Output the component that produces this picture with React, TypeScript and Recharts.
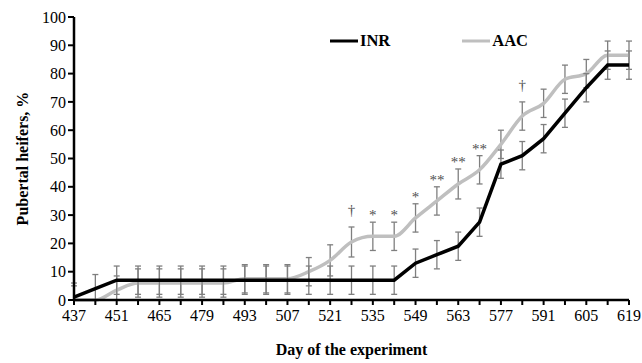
import { LineChart, Line, XAxis, YAxis, ErrorBar, LabelList, Legend } from "recharts";

const days = [
  437, 444, 451, 458, 465, 472, 479, 486, 493, 500, 507, 514, 521, 528,
  535, 542, 549, 556, 563, 570, 577, 584, 591, 598, 605, 612, 619,
];
const labeledDays = [437, 451, 465, 479, 493, 507, 521, 535, 549, 563, 577, 591, 605, 619];
const yTicks = [0, 10, 20, 30, 40, 50, 60, 70, 80, 90, 100];

const inr = [1, 4, 7, 7, 7, 7, 7, 7, 7, 7, 7, 7, 7, 7, 7, 7, 13, 16, 19, 27.5, 48, 51, 57, 66, 75, 83, 83];
const aac = [0, 0, 3.5, 6, 6, 6, 6, 6, 7.5, 7.5, 7.5, 10, 14, 20.5, 22.5, 22.5, 29, 35, 41, 46, 55, 65, 69.5, 78, 80, 86.5, 86.5];
const inrErr = [5, 5, 5, 5, 5, 5, 5, 5, 5, 5, 5, 5, 5, 5, 5, 5, 5, 5, 5, 5, 5, 5, 5, 5, 5, 5, 5];
const aacErr = [5, 0, 5, 5, 5, 5, 5, 5, 5, 5, 5, 5, 5.5, 5.3, 5, 5, 5, 5, 5.3, 5, 5, 5, 5, 5, 5, 5, 5];
const signif = ["", "", "", "", "", "", "", "", "", "", "", "", "", "†", "*", "*", "*", "**", "**", "**", "", "†", "", "", "", "", ""];

const data = days.map((day, i) => ({
  day,
  inr: inr[i],
  aac: aac[i],
  inrErr: [Math.min(inrErr[i], inr[i]), inrErr[i]],
  aacErr: [Math.min(aacErr[i], aac[i]), aacErr[i]],
  sigY: signif[i] ? aac[i] + aacErr[i] : null,
  sig: signif[i],
}));

const FONT = "'Liberation Serif', 'Times New Roman', serif";
const GRAY = "#bfbfbf";

function LegendBox() {
  const item = (color: string, name: string, gap: number) => (
    <div style={{ display: "flex", alignItems: "center", marginRight: gap }}>
      <svg width={30} height={6}>
        <line x1={0} y1={3} x2={28} y2={3} stroke={color} strokeWidth={3} />
      </svg>
      <span style={{ fontFamily: FONT, fontWeight: "bold", fontSize: 16.5, color: "#000" }}>{name}</span>
    </div>
  );
  return (
    <div style={{ display: "flex" }}>
      {item("#000", "INR", 72)}
      {item(GRAY, "AAC", 0)}
    </div>
  );
}

function SigLabel(props: any) {
  const { x, y, index } = props;
  const s = signif[index];
  if (!s) return null;
  const lift = s === "†" ? 12 : 2;
  return (
    <text x={x} y={y - lift} textAnchor="middle" fontFamily={FONT} fontSize={15} fill="#505050">
      {s}
    </text>
  );
}

export default function App() {
  return (
    <div style={{ position: "absolute", left: 0, top: 0, background: "#fff" }}>
      <LineChart width={642} height={363} data={data} margin={{ top: 17, right: 13, left: 0, bottom: 0 }}>
        <XAxis
          dataKey="day"
          type="number"
          domain={[437, 619]}
          ticks={days}
          interval={0}
          tickFormatter={(v: number) => (labeledDays.includes(v) ? String(v) : "")}
          height={63}
          axisLine={{ stroke: "#000", strokeWidth: 2.5 }}
          tickLine={{ stroke: "#000", strokeWidth: 2 }}
          tickSize={5}
          tick={{ fontFamily: FONT, fontSize: 16, fill: "#000", dy: 3 }}
          label={{
            value: "Day of the experiment",
            position: "insideBottom",
            offset: 8,
            style: { fontFamily: FONT, fontWeight: "bold", fontSize: 16, fill: "#000" },
          }}
        />
        <YAxis
          type="number"
          domain={[0, 100]}
          ticks={yTicks}
          interval={0}
          width={74}
          axisLine={{ stroke: "#000", strokeWidth: 2.5 }}
          tickLine={{ stroke: "#000", strokeWidth: 2 }}
          tickSize={6}
          tick={{ fontFamily: FONT, fontSize: 16, fill: "#000" }}
          label={({ viewBox }: any) => (
            <text
              x={22}
              y={viewBox.y + viewBox.height / 2}
              transform={`rotate(-90, 22, ${viewBox.y + viewBox.height / 2})`}
              textAnchor="middle"
              dominantBaseline="central"
              fontFamily={FONT}
              fontWeight="bold"
              fontSize={16}
              fill="#000"
            >
              Pubertal heifers, %
            </text>
          )}
        />
        <Legend
          layout="horizontal"
          verticalAlign="middle"
          align="center"
          wrapperStyle={{ top: 31, left: 330, width: "auto" }}
          content={() => <LegendBox />}
        />
        <Line
          type="monotone"
          dataKey="aac"
          name="AAC"
          stroke={GRAY}
          strokeWidth={3.5}
          dot={false}
          activeDot={false}
          isAnimationActive={false}
        >
          <ErrorBar dataKey="aacErr" width={3} stroke="#7f7f7f" strokeWidth={1.3} direction="y" />
        </Line>
        <Line
          type="linear"
          dataKey="inr"
          name="INR"
          stroke="#000"
          strokeWidth={3.5}
          dot={false}
          activeDot={false}
          isAnimationActive={false}
        >
          <ErrorBar dataKey="inrErr" width={3} stroke="#7f7f7f" strokeWidth={1.3} direction="y" />
        </Line>
        <Line
          dataKey="sigY"
          stroke="none"
          dot={false}
          activeDot={false}
          legendType="none"
          isAnimationActive={false}
        >
          <LabelList dataKey="sig" content={<SigLabel />} />
        </Line>
      </LineChart>
    </div>
  );
}
